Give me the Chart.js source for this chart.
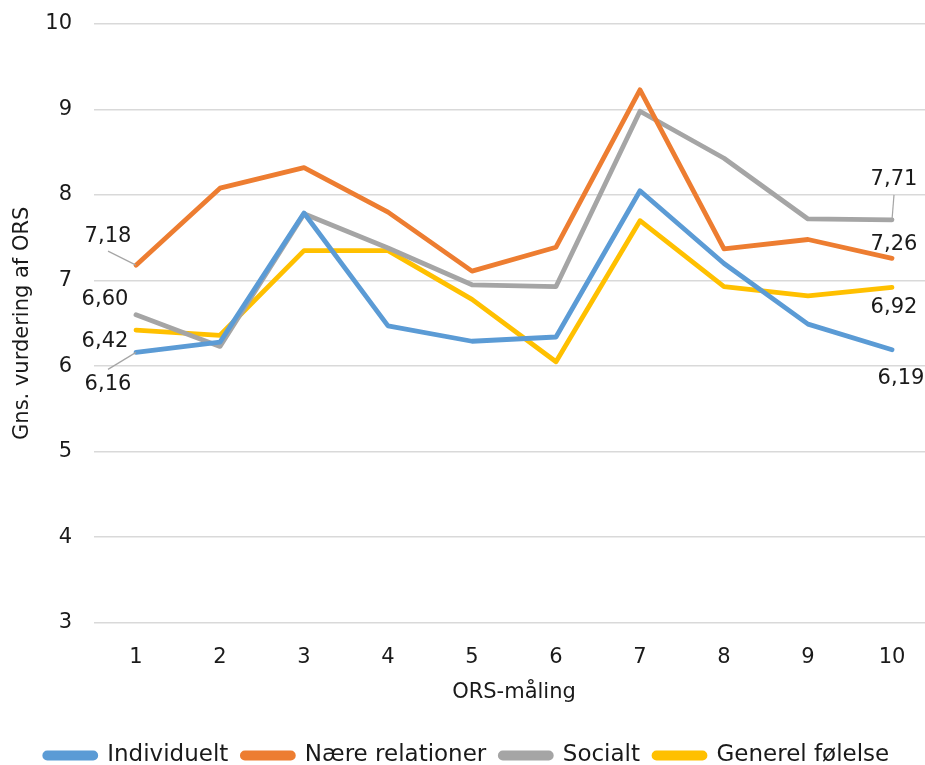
<!DOCTYPE html>
<html>
<head>
<meta charset="utf-8">
<script src="https://cdn.jsdelivr.net/npm/chart.js@4/dist/chart.umd.min.js"></script>
<style>
    html, body { margin: 0; padding: 0; background: #fff; overflow: hidden; }
    #wrap { width: 940px; height: 765px; }
</style>
</head>
<body>
<div id="wrap"><canvas id="lineChart"></canvas></div>
<script>
const maalinger = ['1', '2', '3', '4', '5', '6', '7', '8', '9', '10'];
const individuelt = [6.16, 6.28, 7.79, 6.47, 6.29, 6.34, 8.05, 7.20, 6.49, 6.19];
const naereRelationer = [7.18, 8.08, 8.32, 7.80, 7.11, 7.39, 9.23, 7.37, 7.48, 7.26];
const socialt = [6.60, 6.23, 7.78, 7.38, 6.95, 6.93, 8.98, 8.43, 7.72, 7.71];
const generelFoelelse = [6.42, 6.36, 7.35, 7.35, 6.78, 6.05, 7.70, 6.93, 6.82, 6.92];
const yMin = 3;
const yMax = 10;

const FONT = 'DejaVu Sans, Verdana, sans-serif';

// where the end labels sit relative to their point (first point, last point)
const labelPlacement = [
    { first: { dx: -28, dy: 32, leader: 'above' }, last: { dx: 9, dy: 29 } },
    { first: { dx: -28, dy: -29, leader: 'below' }, last: { dx: 2, dy: -14 } },
    { first: { dx: -31, dy: -15 }, last: { dx: 2, dy: -40, leader: 'below' } },
    { first: { dx: -31, dy: 11 }, last: { dx: 2, dy: 20 } }
];

const endLabels = {
    id: 'endLabels',
    afterDatasetsDraw(chart) {
        const ctx = chart.ctx;
        ctx.save();
        ctx.font = '21px ' + FONT;
        ctx.textAlign = 'center';
        ctx.textBaseline = 'middle';
        chart.data.datasets.forEach((ds, i) => {
            const meta = chart.getDatasetMeta(i);
            const place = labelPlacement[i];
            [['first', 0], ['last', ds.data.length - 1]].forEach(([key, idx]) => {
                const pt = meta.data[idx];
                const p = place[key];
                const lx = pt.x + p.dx;
                const ly = pt.y + p.dy;
                if (p.leader) {
                    ctx.strokeStyle = '#a5a5a5';
                    ctx.lineWidth = 1.2;
                    ctx.beginPath();
                    ctx.moveTo(pt.x, pt.y);
                    ctx.lineTo(lx, p.leader === 'below' ? ly + 15 : ly - 15);
                    ctx.stroke();
                }
                ctx.fillStyle = '#1a1a1a';
                ctx.fillText(ds.data[idx].toFixed(2).replace('.', ','), lx, ly);
            });
        });
        ctx.restore();
    }
};

function serie(label, data, color) {
    return {
        label: label,
        data: data,
        borderColor: color,
        backgroundColor: color,
        borderWidth: 4.8,
        borderCapStyle: 'round',
        borderJoinStyle: 'round',
        pointRadius: 0,
        tension: 0
    };
}

new Chart(document.getElementById('lineChart').getContext('2d'), {
    type: 'line',
    data: {
        labels: maalinger,
        datasets: [
            serie('Individuelt', individuelt, '#5b9bd5'),
            serie('Nære relationer', naereRelationer, '#ed7d31'),
            serie('Socialt', socialt, '#a5a5a5'),
            serie('Generel følelse', generelFoelelse, '#ffc000')
        ]
    },
    options: {
        responsive: true,
        maintainAspectRatio: false,
        animation: false,
        layout: { padding: { top: 24, right: 6, bottom: -12, left: 0 } },
        plugins: {
            tooltip: { enabled: false },
            legend: {
                position: 'bottom',
                labels: {
                    font: { family: FONT, size: 23 },
                    color: '#1a1a1a',
                    boxWidth: 51,
                    boxHeight: 5,
                    useBorderRadius: true,
                    borderRadius: 2.5,
                    padding: 14
                }
            }
        },
        scales: {
            x: {
                offset: true,
                grid: { display: false, drawTicks: false },
                border: { display: false },
                ticks: { font: { family: FONT, size: 21 }, color: '#1a1a1a', padding: 22 },
                title: {
                    display: true,
                    text: 'ORS-måling',
                    font: { family: FONT, size: 21 },
                    color: '#1a1a1a',
                    padding: { top: -12, bottom: 25 }
                }
            },
            y: {
                min: yMin,
                max: yMax,
                afterFit(scale) {
                    scale.width = 94;
                    scale.paddingTop = 0;
                    scale.paddingBottom = 0;
                },
                grid: { color: '#d9d9d9', lineWidth: 1.5, drawTicks: false },
                border: { display: false },
                ticks: { stepSize: 1, font: { family: FONT, size: 21 }, color: '#1a1a1a', padding: 22 },
                title: {
                    display: true,
                    text: 'Gns. vurdering af ORS',
                    font: { family: FONT, size: 21 },
                    color: '#1a1a1a',
                    padding: { top: 10, bottom: 0 }
                }
            }
        }
    },
    plugins: [endLabels]
});
</script>
</body>
</html>
